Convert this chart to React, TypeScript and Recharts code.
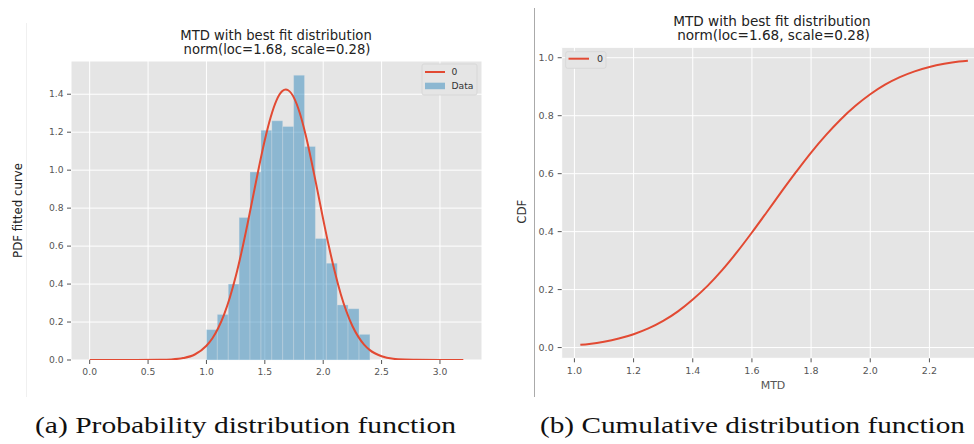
import {
  ComposedChart,
  Line,
  XAxis,
  YAxis,
  CartesianGrid,
  ReferenceArea,
} from "recharts";

const RED = "#E24A33";
const BLUE = "#348ABD";
const PANEL = "#E5E5E5";
const SANS = "'DejaVu Sans', sans-serif";

// histogram of MTD (density), 15 bins between 1.0 and 2.4
const binEdges = [
  1.0, 1.093, 1.187, 1.28, 1.373, 1.467, 1.56, 1.653, 1.747, 1.84, 1.933,
  2.027, 2.12, 2.213, 2.307, 2.4,
];
const binDensity = [
  0.16, 0.24, 0.4, 0.75, 0.99, 1.21, 1.26, 1.23, 1.5, 1.125, 0.64, 0.51, 0.29,
  0.27, 0.135,
];

// fitted normal pdf
const pdfX = [
  0, 0.2, 0.4, 0.6, 0.7, 0.8, 0.9, 1.0, 1.05, 1.1, 1.15, 1.2, 1.25, 1.3, 1.35,
  1.4, 1.45, 1.5, 1.55, 1.6, 1.65, 1.68, 1.7, 1.75, 1.8, 1.85, 1.9, 1.95, 2.0,
  2.05, 2.1, 2.15, 2.2, 2.25, 2.3, 2.35, 2.4, 2.5, 2.6, 2.7, 2.8, 3.0, 3.2,
];
const pdfY = [
  0, 0, 0, 0.001, 0.003, 0.01, 0.029, 0.075, 0.113, 0.167, 0.238, 0.328, 0.438,
  0.567, 0.711, 0.864, 1.017, 1.159, 1.279, 1.368, 1.417, 1.425, 1.421, 1.381,
  1.3, 1.185, 1.046, 0.895, 0.741, 0.595, 0.463, 0.348, 0.254, 0.179, 0.123,
  0.081, 0.052, 0.02, 0.006, 0.002, 0.001, 0, 0,
];

// fitted normal cdf over the observed range
const cdfX = [
  1.02, 1.05, 1.1, 1.15, 1.2, 1.25, 1.3, 1.35, 1.4, 1.45, 1.5, 1.55, 1.6, 1.65,
  1.7, 1.75, 1.8, 1.85, 1.9, 1.95, 2.0, 2.05, 2.1, 2.15, 2.2, 2.25, 2.3, 2.33,
];
const cdfY = [
  0.0095, 0.0125, 0.02, 0.031, 0.046, 0.066, 0.092, 0.125, 0.166, 0.213, 0.268,
  0.33, 0.397, 0.467, 0.538, 0.607, 0.673, 0.733, 0.787, 0.834, 0.874, 0.907,
  0.933, 0.953, 0.968, 0.979, 0.987, 0.99,
];

const pdfTicksX = [0, 0.5, 1.0, 1.5, 2.0, 2.5, 3.0];
const pdfTicksY = [0, 0.2, 0.4, 0.6, 0.8, 1.0, 1.2, 1.4];
const cdfTicksX = [1.0, 1.2, 1.4, 1.6, 1.8, 2.0, 2.2];
const cdfTicksY = [0, 0.2, 0.4, 0.6, 0.8, 1.0];

const pdfRows = pdfX.map((x, i) => ({ x, pdf: pdfY[i] }));
const cdfRows = cdfX.map((x, i) => ({ x, cdf: cdfY[i] }));

const fmt = (v: number) => v.toFixed(1);

function PdfChart() {
  const tick = { fontSize: 9.2, fill: "#555", fontFamily: SANS };
  return (
    <ComposedChart
      width={490}
      height={400}
      data={pdfRows}
      margin={{ top: 61, right: 8, bottom: 20, left: 0 }}
    >
      <CartesianGrid fill={PANEL} fillOpacity={1} stroke="#fff" strokeWidth={1} />
      <XAxis
        dataKey="x"
        type="number"
        domain={[-0.16, 3.36]}
        ticks={pdfTicksX}
        tickFormatter={fmt}
        allowDataOverflow
        axisLine={false}
        tickSize={4}
        tickMargin={4.5}
        tickLine={{ stroke: "#555" }}
        tick={tick}
        height={20}
      />
      <YAxis
        type="number"
        domain={[0, 1.575]}
        ticks={pdfTicksY}
        tickFormatter={fmt}
        allowDataOverflow
        axisLine={false}
        tickSize={4}
        tickMargin={3.5}
        tickLine={{ stroke: "#555" }}
        tick={tick}
        width={71}
      />
      {binDensity.map((d, i) => (
        <ReferenceArea
          key={i}
          x1={binEdges[i]}
          x2={binEdges[i + 1]}
          y1={0}
          y2={d}
          fill={BLUE}
          fillOpacity={0.5}
          stroke="#EEEEEE"
          strokeOpacity={0.5}
          strokeWidth={0.5}
        />
      ))}
      <Line
        dataKey="pdf"
        name="0"
        type="monotone"
        stroke={RED}
        strokeWidth={2}
        dot={false}
        isAnimationActive={false}
      />
    </ComposedChart>
  );
}

function CdfChart() {
  const tick = { fontSize: 9.5, fill: "#555", fontFamily: SANS };
  return (
    <ComposedChart
      width={510}
      height={400}
      data={cdfRows}
      margin={{ top: 47.3, right: 12, bottom: 21.7, left: 0 }}
    >
      <CartesianGrid fill={PANEL} fillOpacity={1} stroke="#fff" strokeWidth={1} />
      <XAxis
        dataKey="x"
        type="number"
        domain={[0.957, 2.398]}
        ticks={cdfTicksX}
        tickFormatter={fmt}
        allowDataOverflow
        axisLine={false}
        tickSize={4}
        tickMargin={5}
        tickLine={{ stroke: "#555" }}
        tick={tick}
        height={20}
      />
      <YAxis
        type="number"
        domain={[-0.037, 1.036]}
        ticks={cdfTicksY}
        tickFormatter={fmt}
        allowDataOverflow
        axisLine={false}
        tickSize={4}
        tickMargin={4}
        tickLine={{ stroke: "#555" }}
        tick={tick}
        width={71.7}
      />
      <Line
        dataKey="cdf"
        name="0"
        type="monotone"
        stroke={RED}
        strokeWidth={2}
        dot={false}
        isAnimationActive={false}
      />
    </ComposedChart>
  );
}

// titles, axis labels, legends and captions drawn over both panels
function Decorations() {
  const title = { fontFamily: SANS, fill: "#222", textAnchor: "middle" as const };
  const legendText = { fontFamily: SANS, fontSize: 9.2, fill: "#333" };
  const caption = {
    fontFamily: "'Liberation Serif', serif",
    fontSize: 23,
    fill: "#111",
  };
  return (
    <svg
      width={974}
      height={444}
      style={{ position: "absolute", left: 0, top: 0, pointerEvents: "none" }}
    >
      <line x1={26.5} y1={23} x2={26.5} y2={397} stroke="#F0F0F0" />
      <line x1={534.5} y1={8} x2={534.5} y2={397} stroke="#AAAAAA" />

      <text {...title} x={276} y={39.5} fontSize={13.2}>
        MTD with best fit distribution
      </text>
      <text {...title} x={277} y={54} fontSize={13.2}>
        norm(loc=1.68, scale=0.28)
      </text>
      <text {...title} x={772} y={25.5} fontSize={13.6}>
        MTD with best fit distribution
      </text>
      <text {...title} x={773.5} y={40} fontSize={13.6}>
        norm(loc=1.68, scale=0.28)
      </text>

      <text
        transform="translate(18,210.5) rotate(-90)"
        textAnchor="middle"
        dy="0.36em"
        fontFamily={SANS}
        fontSize={11.8}
        fill="#222"
      >
        PDF fitted curve
      </text>
      <text
        transform="translate(522,211.7) rotate(-90)"
        textAnchor="middle"
        dy="0.36em"
        fontFamily={SANS}
        fontSize={11.8}
        fill="#333"
      >
        CDF
      </text>
      <text
        x={773}
        y={385}
        dy="0.36em"
        textAnchor="middle"
        fontFamily={SANS}
        fontSize={11}
        fill="#555"
      >
        MTD
      </text>

      {/* legend, left panel */}
      <rect x={422} y={64} width={55} height={31} rx={2} fill={PANEL} stroke="#D4D4D4" strokeWidth={0.8} />
      <line x1={425} y1={72} x2={445} y2={72} stroke={RED} strokeWidth={2} />
      <text {...legendText} x={451.5} y={72} dy="0.36em">0</text>
      <rect x={425} y={82.7} width={20} height={6.5} fill={BLUE} fillOpacity={0.5} />
      <text {...legendText} x={451.5} y={86} dy="0.36em">Data</text>

      {/* legend, right panel */}
      <rect x={565.7} y={51.7} width={40.3} height={16.6} rx={2} fill={PANEL} stroke="#D4D4D4" strokeWidth={0.8} />
      <line x1={568.5} y1={58.7} x2={589} y2={58.7} stroke={RED} strokeWidth={2} />
      <text {...legendText} fontSize={9.5} x={597} y={59} dy="0.36em">0</text>

      <text {...caption} x={35} y={433} textLength={421} lengthAdjust="spacingAndGlyphs">
        (a) Probability distribution function
      </text>
      <text {...caption} x={540} y={433} textLength={425} lengthAdjust="spacingAndGlyphs">
        (b) Cumulative distribution function
      </text>
    </svg>
  );
}

export default function App() {
  return (
    <div
      style={{
        position: "absolute",
        left: 0,
        top: 0,
        width: 974,
        height: 444,
        overflow: "hidden",
        background: "#fff",
      }}
    >
      <div style={{ position: "absolute", left: 0, top: 0 }}>
        <PdfChart />
      </div>
      <div style={{ position: "absolute", left: 490, top: 0 }}>
        <CdfChart />
      </div>
      <Decorations />
    </div>
  );
}
